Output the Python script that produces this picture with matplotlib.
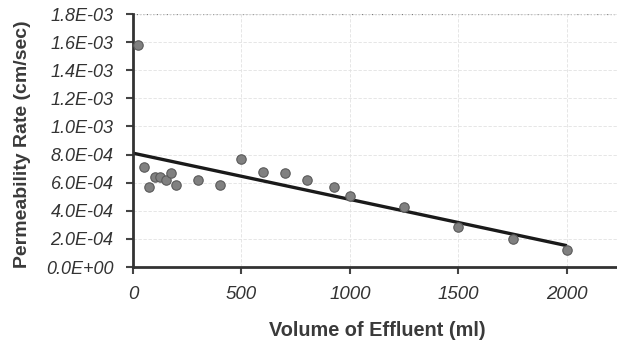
import numpy as np
import matplotlib
matplotlib.use("Agg")
import matplotlib.pyplot as plt
from matplotlib.ticker import FuncFormatter

volume_ml = [25, 50, 75, 100, 125, 150, 175, 200, 300, 400, 500, 600, 700, 800, 925, 1000, 1250, 1500, 1750, 2000]
permeability = [1.58e-3, 7.1e-4, 5.7e-4, 6.4e-4, 6.4e-4, 6.2e-4, 6.7e-4, 5.8e-4, 6.2e-4, 5.8e-4,
                7.65e-4, 6.75e-4, 6.7e-4, 6.2e-4, 5.7e-4, 5.05e-4, 4.25e-4, 2.85e-4, 2.0e-4, 1.2e-4]
y_ticks = [0, 2e-4, 4e-4, 6e-4, 8e-4, 1.0e-3, 1.2e-3, 1.4e-3, 1.6e-3, 1.8e-3]
x_ticks = [0, 500, 1000, 1500, 2000]

plt.rcParams['font.family'] = ['Liberation Sans', 'DejaVu Sans']

fig = plt.figure(figsize=(6.17, 3.44), dpi=100)
ax = fig.add_axes([0.2156, 0.2238, 0.784, 0.7355])

x = np.array(volume_ml, dtype=float)
y = np.array(permeability)
slope, intercept = np.polyfit(x, y, 1)
xl = np.array([0, 2000.0])
ax.plot(xl, intercept + slope * xl, color='#1a1a1a', lw=2.4, zorder=2, solid_capstyle='butt')

ax.scatter(x, y, s=46, color='#808080', edgecolors='#5a5a5a', linewidths=0.8, zorder=3)

ax.set_xlim(0, 2230)
ax.set_ylim(0, 1.8e-3)
ax.set_xticks(x_ticks)
ax.set_yticks(y_ticks)
ax.yaxis.set_major_formatter(FuncFormatter(lambda v, p: "%.1E" % v))

ax.grid(True, color='#e2e2e2', lw=0.6, linestyle=(0, (4, 2)))
ax.axhline(1.8e-3, color='#777777', lw=0.9, linestyle=':', zorder=1)

for s in ['top', 'right']:
    ax.spines[s].set_visible(False)
for s in ['left', 'bottom']:
    ax.spines[s].set_color('#333333')
    ax.spines[s].set_linewidth(2.0)

ax.tick_params(axis='both', direction='out', length=5, width=1.5, color='#444444',
               labelcolor='#333333')
ax.tick_params(axis='x', pad=9, labelsize=13.5)
ax.tick_params(axis='y', pad=9, labelsize=13)
for lab in ax.get_xticklabels() + ax.get_yticklabels():
    lab.set_fontstyle('italic')

fig.text(377.5 / 617, 1 - 330 / 344, 'Volume of Effluent (ml)', fontsize=14.3, fontweight='bold',
         color='#3a3a3a', ha='center', va='center')
fig.text(23 / 617, 1 - 144 / 344, 'Permeability Rate (cm/sec)', fontsize=14, fontweight='bold',
         color='#3a3a3a', ha='center', va='center', rotation=90)

fig.savefig('out.png', dpi=100)
